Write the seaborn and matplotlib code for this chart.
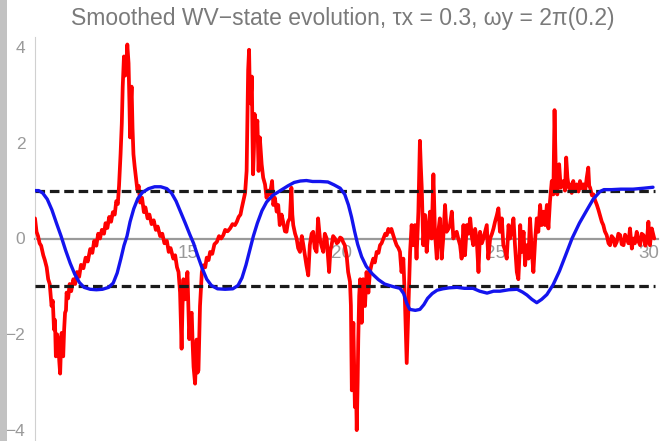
import matplotlib
matplotlib.use("Agg")
import matplotlib.pyplot as plt
import seaborn as sns
import pandas as pd
from matplotlib.patches import Rectangle
from matplotlib.ticker import FixedLocator

title = "Smoothed WV\u2212state evolution, \u03c4x = 0.3, \u03c9y = 2\u03c0(0.2)"
x_ticks = [15, 20, 25, 30]
y_ticks = [-4, -2, 0, 2, 4]
bound_levels = [1.0, -1.0]
bound_span = [10.0, 30.2]

blue_t = [10.00, 10.12, 10.25, 10.40, 10.55, 10.70, 10.85, 11.00, 11.15, 11.30, 11.45, 11.60, 11.80, 12.00,
          12.20, 12.40, 12.55, 12.68, 12.80, 12.90, 13.00, 13.10, 13.22, 13.35, 13.50, 13.70, 13.90, 14.10,
          14.30, 14.45, 14.60, 14.75, 14.90, 15.05, 15.17, 15.30, 15.45, 15.60, 15.75, 15.95, 16.20, 16.45,
          16.62, 16.75, 16.88, 17.00, 17.12, 17.25, 17.40, 17.55, 17.75, 18.00, 18.25, 18.45, 18.65, 18.85,
          19.05, 19.30, 19.55, 19.75, 19.95, 20.10, 20.22, 20.32, 20.42, 20.52, 20.65, 20.80, 21.00, 21.20,
          21.40, 21.65, 21.90, 22.02, 22.12, 22.22, 22.40, 22.55, 22.68, 22.80, 22.95, 23.11, 23.30, 23.50,
          23.76, 24.00, 24.28, 24.50, 24.74, 24.95, 25.16, 25.45, 25.72, 25.90, 26.04, 26.20, 26.36, 26.52,
          26.69, 26.89, 27.10, 27.30, 27.51, 27.75, 28.00, 28.20, 28.42, 28.55, 28.80, 29.10, 29.50, 29.85,
          30.15]
blue_y = [1.00, 1.00, 0.95, 0.82, 0.60, 0.32, 0.05, -0.25, -0.52, -0.75, -0.92, -1.02, -1.06, -1.07,
          -1.06, -1.02, -0.93, -0.72, -0.42, -0.15, 0.05, 0.35, 0.62, 0.83, 0.96, 1.04, 1.08, 1.08,
          1.04, 0.95, 0.78, 0.55, 0.32, 0.08, -0.10, -0.35, -0.62, -0.85, -0.98, -1.05, -1.06, -1.05,
          -0.98, -0.82, -0.55, -0.25, 0.05, 0.32, 0.58, 0.76, 0.90, 1.00, 1.10, 1.17, 1.20, 1.21,
          1.19, 1.19, 1.18, 1.12, 1.05, 0.92, 0.70, 0.45, 0.15, -0.12, -0.38, -0.58, -0.74, -0.86,
          -0.95, -1.00, -1.04, -1.15, -1.35, -1.48, -1.50, -1.48, -1.38, -1.25, -1.15, -1.08, -1.05, -1.03,
          -1.02, -1.04, -1.04, -1.10, -1.14, -1.10, -1.10, -1.07, -1.06, -1.12, -1.18, -1.27, -1.34, -1.27,
          -1.17, -0.97, -0.68, -0.35, 0.00, 0.32, 0.60, 0.82, 0.98, 1.02, 1.02, 1.03, 1.03, 1.05,
          1.07]

red_t = [10.00, 10.03, 10.05, 10.10, 10.15, 10.20, 10.27, 10.32, 10.38, 10.43, 10.48, 10.54, 10.58, 10.62,
         10.65, 10.68, 10.72, 10.76, 10.79, 10.82, 10.85, 10.87, 10.90, 10.92, 10.95, 10.98, 11.01, 11.03,
         11.08, 11.13, 11.18, 11.25, 11.31, 11.37, 11.44, 11.50, 11.58, 11.65, 11.72, 11.80, 11.87, 11.93,
         12.00, 12.06, 12.12, 12.18, 12.25, 12.30, 12.36, 12.42, 12.48, 12.54, 12.60, 12.65, 12.70, 12.74,
         12.79, 12.83, 12.86, 12.90, 12.94, 12.97, 13.01, 13.05, 13.08, 13.10, 13.13, 13.15, 13.18, 13.21,
         13.25, 13.29, 13.34, 13.38, 13.43, 13.49, 13.55, 13.60, 13.67, 13.73, 13.80, 13.87, 13.94, 14.00,
         14.08, 14.15, 14.22, 14.30, 14.36, 14.42, 14.51, 14.57, 14.63, 14.68, 14.73, 14.78, 14.81, 14.84,
         14.89, 14.93, 14.97, 15.03, 15.07, 15.11, 15.14, 15.17, 15.22, 15.27, 15.30, 15.33, 15.38, 15.44,
         15.49, 15.55, 15.60, 15.66, 15.71, 15.78, 15.85, 15.93, 16.00, 16.07, 16.14, 16.20, 16.28, 16.36,
         16.44, 16.52, 16.58, 16.64, 16.70, 16.74, 16.80, 16.85, 16.90, 16.95, 16.98, 17.00, 17.03, 17.07,
         17.09, 17.11, 17.14, 17.16, 17.20, 17.25, 17.29, 17.33, 17.39, 17.44, 17.50, 17.55, 17.60, 17.66,
         17.73, 17.77, 17.82, 17.88, 17.93, 17.98, 18.04, 18.09, 18.15, 18.20, 18.25, 18.31, 18.36, 18.39,
         18.42, 18.48, 18.53, 18.58, 18.64, 18.70, 18.75, 18.80, 18.85, 18.91, 18.96, 19.02, 19.07, 19.12,
         19.18, 19.23, 19.29, 19.34, 19.40, 19.45, 19.51, 19.55, 19.59, 19.63, 19.67, 19.72, 19.78, 19.84,
         19.89, 19.95, 20.00, 20.05, 20.10, 20.16, 20.21, 20.27, 20.30, 20.33, 20.38, 20.43, 20.46, 20.49,
         20.52, 20.54, 20.57, 20.60, 20.65, 20.70, 20.76, 20.81, 20.87, 20.92, 20.97, 21.03, 21.08, 21.14,
         21.20, 21.25, 21.30, 21.36, 21.42, 21.47, 21.52, 21.57, 21.62, 21.68, 21.74, 21.79, 21.85, 21.90,
         21.95, 22.01, 22.06, 22.12, 22.17, 22.23, 22.28, 22.34, 22.39, 22.44, 22.50, 22.55, 22.58, 22.61,
         22.66, 22.72, 22.77, 22.82, 22.88, 22.93, 22.99, 23.04, 23.10, 23.15, 23.20, 23.26, 23.31, 23.37,
         23.42, 23.48, 23.53, 23.59, 23.64, 23.70, 23.75, 23.80, 23.86, 23.91, 23.97, 24.02, 24.08, 24.13,
         24.19, 24.24, 24.29, 24.35, 24.40, 24.46, 24.51, 24.57, 24.62, 24.68, 24.73, 24.78, 24.84, 24.90,
         24.95, 25.00, 25.06, 25.11, 25.16, 25.22, 25.27, 25.33, 25.38, 25.44, 25.49, 25.55, 25.60, 25.65,
         25.71, 25.76, 25.80, 25.82, 25.87, 25.93, 25.98, 26.03, 26.09, 26.14, 26.20, 26.25, 26.31, 26.36,
         26.41, 26.47, 26.52, 26.58, 26.63, 26.69, 26.74, 26.79, 26.85, 26.90, 26.94, 26.98, 27.03, 27.09,
         27.14, 27.23, 27.28, 27.32, 27.36, 27.41, 27.45, 27.50, 27.55, 27.60, 27.66, 27.72, 27.77, 27.83,
         27.88, 27.94, 27.99, 28.04, 28.07, 28.10, 28.16, 28.21, 28.26, 28.32, 28.37, 28.42, 28.48, 28.53,
         28.58, 28.64, 28.70, 28.75, 28.80, 28.86, 28.91, 28.97, 29.02, 29.08, 29.13, 29.19, 29.24, 29.29,
         29.35, 29.40, 29.46, 29.51, 29.56, 29.62, 29.67, 29.73, 29.78, 29.84, 29.90, 29.95, 30.00, 30.05,
         30.11, 30.19]
red_y = [0.42, 0.25, 0.14, 0.05, -0.10, -0.15, -0.35, -0.45, -0.60, -0.85, -0.95, -1.41, -1.30, -1.90,
         -1.70, -2.46, -2.00, -2.11, -2.55, -2.82, -2.20, -1.97, -2.40, -2.46, -1.90, -1.55, -1.50, -1.13,
         -1.25, -0.95, -1.10, -0.85, -0.95, -0.70, -0.80, -0.55, -0.62, -0.40, -0.48, -0.22, -0.30, -0.05,
         -0.15, 0.10, 0.00, 0.18, 0.10, 0.32, 0.22, 0.45, 0.35, 0.55, 0.50, 0.78, 0.72, 1.10,
         1.76, 2.40, 3.17, 3.80, 3.40, 3.52, 4.05, 3.66, 2.80, 2.11, 2.90, 3.17, 2.30, 1.76,
         1.50, 1.27, 1.00, 1.10, 0.75, 0.85, 0.55, 0.65, 0.42, 0.50, 0.30, 0.38, 0.18, 0.25,
         0.05, 0.10, -0.10, -0.05, -0.28, -0.20, -0.42, -0.35, -0.60, -0.70, -1.13, -2.30, -1.40, -0.85,
         -1.27, -1.00, -0.70, -2.10, -1.60, -1.55, -2.20, -2.68, -3.03, -2.11, -2.80, -2.75, -1.41, -0.70,
         -0.56, -0.60, -0.40, -0.45, -0.28, -0.32, -0.12, -0.07, 0.05, 0.00, 0.07, 0.18, 0.15, 0.21,
         0.30, 0.28, 0.35, 0.45, 0.50, 0.63, 0.80, 0.95, 1.41, 3.52, 3.94, 3.20, 2.82, 3.38,
         2.20, 1.34, 1.90, 2.60, 2.11, 2.46, 1.41, 2.11, 1.55, 1.27, 1.13, 0.85, 1.00, 0.92,
         1.20, 0.70, 0.85, 0.56, 0.70, 0.28, 0.50, 0.35, 0.15, 0.14, 0.35, 0.42, 1.06, 0.50,
         0.28, 0.10, 0.00, -0.20, -0.28, 0.05, -0.14, -0.35, -0.56, -0.77, -0.14, 0.10, 0.14, -0.20,
         -0.28, 0.42, 0.00, -0.15, -0.28, 0.10, 0.00, -0.35, -0.70, -0.25, -0.14, 0.05, 0.00, -0.10,
         -0.07, 0.02, 0.00, -0.08, -0.14, -0.35, -0.70, -0.90, -1.40, -3.17, -1.76, -3.52, -2.80, -4.00,
         -3.00, -2.11, -1.20, -0.85, -1.76, -0.85, -1.41, -0.70, -1.13, -0.70, -0.55, -0.42, -0.50, -0.28,
         -0.30, -0.14, -0.10, 0.00, 0.10, 0.07, 0.20, 0.14, 0.20, 0.07, -0.05, -0.14, -0.20, -0.28,
         -0.70, -0.42, -1.27, -2.60, -1.55, -0.28, 0.28, -0.14, 0.28, -0.42, 0.56, 2.04, 1.50, 1.06,
         -0.14, 0.49, -0.28, 0.14, 0.56, 0.00, 1.34, 0.14, -0.42, 0.14, 0.42, -0.42, 0.00, 0.70,
         0.14, 0.20, 0.28, 0.56, 0.00, 0.10, 0.14, 0.00, -0.14, -0.42, 0.28, -0.35, 0.28, 0.10,
         0.42, 0.05, -0.14, 0.20, 0.00, -0.70, 0.14, -0.10, 0.00, 0.15, 0.28, -0.42, 0.00, 0.10,
         0.21, 0.35, 0.49, 0.63, 0.14, 0.42, -0.14, -0.25, -0.42, 0.28, 0.00, 0.20, 0.42, -0.14,
         -0.70, -0.85, -0.30, 0.28, -0.28, 0.14, -0.56, -0.14, -0.42, 0.42, -0.28, -0.70, 0.00, 0.42,
         0.14, 0.70, 0.28, 0.56, 0.28, 0.70, 0.21, 0.77, 1.20, 0.92, 2.68, 1.41, 0.92, 1.55,
         1.06, 1.20, 1.00, 1.69, 1.27, 1.05, 1.13, 0.95, 1.20, 1.00, 1.13, 0.98, 1.20, 1.05,
         1.13, 1.00, 1.27, 1.48, 1.10, 1.06, 0.90, 0.92, 0.80, 0.70, 0.60, 0.49, 0.35, 0.28,
         0.15, 0.07, -0.10, -0.14, 0.05, 0.00, -0.15, -0.07, 0.10, 0.07, -0.12, -0.14, 0.08, 0.00,
         -0.10, 0.21, -0.21, 0.00, -0.10, 0.14, -0.05, -0.14, 0.10, 0.07, -0.15, -0.07, 0.35, -0.14,
         0.21, 0.00]

red_df = pd.DataFrame({"t": red_t, "v": red_y})
blue_df = pd.DataFrame({"t": blue_t, "v": blue_y})

sns.set_theme(style="white")
plt.rcParams['font.family'] = ['Liberation Sans', 'DejaVu Sans']

W, H = 663, 441
fig = plt.figure(figsize=(W / 100, H / 100), dpi=100)
fig.patch.set_facecolor("white")
ax = fig.add_axes([35 / W, 1.3 / H, 622.6 / W, 402.4 / H])
ax.set_facecolor("white")

sns.lineplot(data=red_df, x="t", y="v", ax=ax, color="#ff0000", lw=2.7,
             sort=False, estimator=None, legend=False, zorder=3)
ax.hlines(bound_levels, bound_span[0], bound_span[1], colors="#1a1a1a",
          linestyles=(0, (3.0, 1.5)), linewidth=2.3, zorder=4)
sns.lineplot(data=blue_df, x="t", y="v", ax=ax, color="#1414ee", lw=2.4,
             sort=False, estimator=None, legend=False, zorder=5)

ax.set_xlim(10, 30.3)
ax.set_ylim(-4.2, 4.2)
ax.set_xlabel("")
ax.set_ylabel("")

for s in ["top", "right"]:
    ax.spines[s].set_visible(False)
ax.spines["bottom"].set_position(("data", 0))
ax.spines["bottom"].set_color("#9a9a9a")
ax.spines["bottom"].set_linewidth(1.6)
ax.spines["bottom"].set_zorder(2)
ax.spines["left"].set_position(("data", 10))
ax.spines["left"].set_color("#d0d0d0")
ax.spines["left"].set_linewidth(0.8)

ax.set_xticks(x_ticks)
ax.set_xticklabels([str(v) for v in x_ticks])
ax.set_yticks(y_ticks)
ax.set_yticklabels([("\u2212" + str(-v)) if v < 0 else str(v) for v in y_ticks])
ax.xaxis.set_minor_locator(FixedLocator([v / 1.0 for v in range(11, 31)]))
ax.yaxis.set_minor_locator(FixedLocator([v / 2.0 for v in range(-8, 9)]))
ax.tick_params(axis="x", which="major", direction="in", length=4, width=0.8, color="#b0b0b0",
               labelcolor="#9a9a9a", labelsize=13.5, pad=5)
ax.tick_params(axis="x", which="minor", direction="in", length=2, width=0.6, color="#c8c8c8")
ax.tick_params(axis="y", which="major", direction="in", length=4, width=0.8, color="#c0c0c0",
               labelcolor="#9a9a9a", labelsize=12.5, pad=7)
ax.tick_params(axis="y", which="minor", direction="in", length=2, width=0.6, color="#d8d8d8")
ax.grid(False)

fig.text(343 / W, 1 - 19 / H, title, ha="center", va="center", color="#7a7a7a", fontsize=16.5)
fig.patches.append(Rectangle((0, 0), 7 / W, 1, transform=fig.transFigure,
                             facecolor="#c2c2c2", edgecolor="none", zorder=10))

fig.savefig("out.png", dpi=100)
